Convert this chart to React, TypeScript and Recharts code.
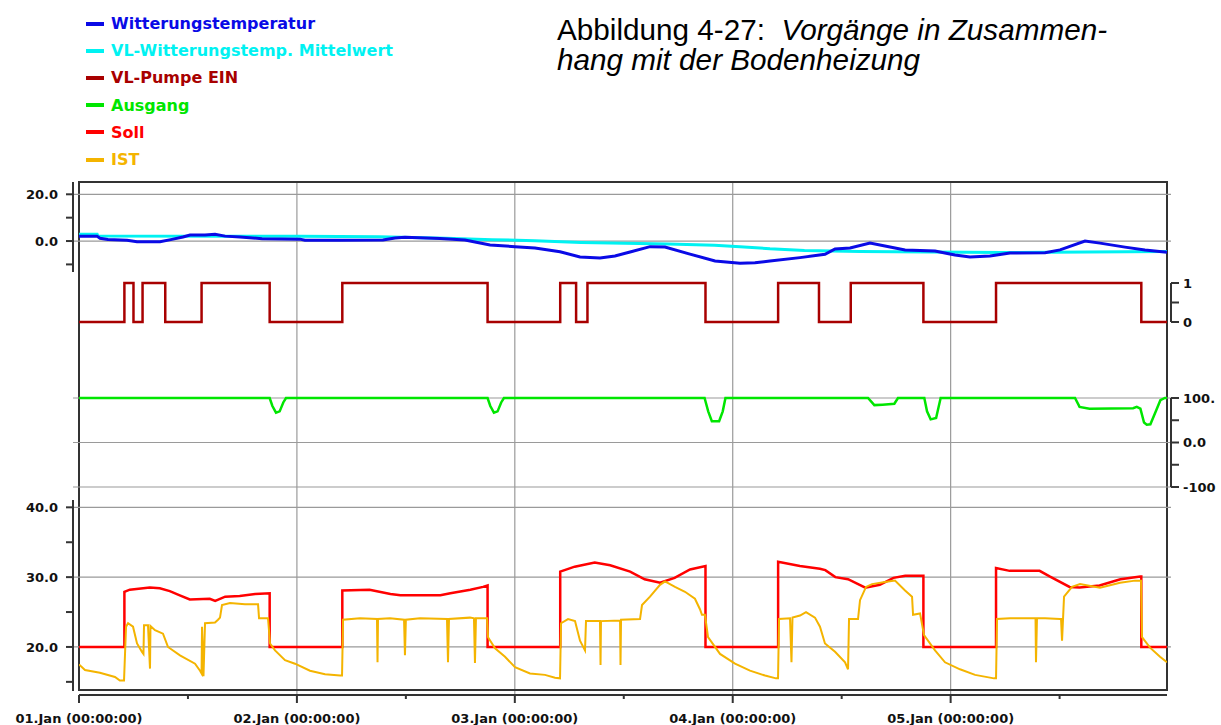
import React from 'react';
import { LineChart, Line, XAxis, YAxis, ReferenceLine, CartesianGrid, Legend } from 'recharts';

// time axis in hours since 01.Jan 00:00
const X_MAX = 119.83;
const dayTicks = [0, 12, 24, 36, 48, 60, 72, 84, 96, 108];
const dayGrid = [24, 48, 72, 96];
const dayLabels = [
  '01.Jan (00:00:00)',
  '02.Jan (00:00:00)',
  '03.Jan (00:00:00)',
  '04.Jan (00:00:00)',
  '05.Jan (00:00:00)',
];

// Witterungstemperatur [h, °C]
const outsideTemp: [number, number][] = [
  [0, 2.1], [1.98, 2.1], [2.31, 1.2], [3.19, 0.7], [5.29, 0.3], [6.39, -0.3], [8.92, -0.3],
  [10.24, 0.7], [11.45, 1.7], [12.23, 2.6], [13.88, 2.6], [14.98, 2.9], [16.08, 2.1], [17.73, 1.7],
  [20.16, 1.0], [24.34, 0.8], [24.89, 0.3], [28.75, 0.3], [33.48, 0.4], [34.8, 1.3], [35.9, 1.6],
  [39.76, 1.1], [42.51, 0.4], [45.27, -1.7], [48.02, -2.4], [50.22, -3.0], [52.98, -4.6],
  [55.18, -6.8], [57.38, -7.3], [59.03, -6.4], [60.69, -4.7], [62.89, -2.4], [64.54, -2.6],
  [67.29, -5.6], [70.05, -8.5], [72.8, -9.5], [74.45, -9.3], [76.1, -8.5], [79.41, -7.1],
  [82.16, -5.7], [83.27, -3.4], [84.92, -3.0], [87.12, -0.9], [88.77, -2.1], [90.98, -3.8],
  [94.28, -4.3], [96.48, -6.0], [98.13, -6.8], [100.33, -6.4], [102.54, -5.1], [106.4, -5.0],
  [108.05, -3.8], [110.8, 0.0], [112.45, -0.9], [115.2, -2.6], [117.4, -3.8], [119.83, -4.8],
];

// VL-Witterungstemp. Mittelwert
const outsideMean: [number, number][] = [
  [0, 2.9], [2.0, 2.9], [2.1, 2.1], [24.3, 2.0], [33, 1.8], [40.4, 1.2], [45.5, 0.6], [50.2, 0.1],
  [55.3, -0.6], [64.9, -1.3], [70.0, -1.8], [72.8, -2.4], [76.1, -3.3], [79.9, -4.0], [86.0, -4.5],
  [101.6, -4.9], [111.0, -4.7], [119.83, -4.5],
];

// VL-Pumpe EIN (0/1, step after)
const pump: [number, number][] = [
  [0, 0], [5, 1], [6, 0], [7, 1], [9.5, 0], [13.5, 1], [21, 0], [29, 1], [45, 0], [53, 1],
  [54.75, 0], [56, 1], [69, 0], [77, 1], [81.5, 0], [85, 1], [93, 0], [101, 1], [117, 0], [119.83, 0],
];

// Ausgang (%)
const output: [number, number][] = [
  [0, 100], [21.0, 100], [21.3, 82], [21.7, 67], [22.1, 70], [22.5, 90], [22.8, 100],
  [45.0, 100], [45.3, 82], [45.7, 67], [46.1, 70], [46.5, 90], [46.8, 100],
  [68.9, 100], [69.3, 70], [69.7, 48], [70.5, 48], [70.9, 70], [71.2, 100],
  [86.9, 100], [87.6, 84], [88.5, 85], [89.8, 87], [90.2, 100],
  [93.1, 100], [93.4, 70], [93.8, 52], [94.4, 55], [94.9, 100],
  [109.7, 100], [110.2, 80], [111.3, 76], [116.1, 77], [116.5, 80], [116.9, 76], [117.3, 45],
  [117.6, 40], [118.0, 41], [118.6, 70], [119.1, 95], [119.6, 100], [119.83, 100],
];

// Soll (°C)
const setpoint: [number, number][] = [
  [0, 20], [5, 20], [5, 27.9], [5.6, 28.2], [7.8, 28.5], [8.9, 28.4], [10.0, 28.0], [11.1, 27.4],
  [12.2, 26.8], [14.4, 26.9], [15.0, 26.6], [16.1, 27.2], [17.7, 27.3], [19.4, 27.6], [21, 27.7],
  [21, 20], [29, 20], [29, 28.1], [32.0, 28.2], [34.3, 27.6], [35.4, 27.4], [39.8, 27.4],
  [40.9, 27.7], [43.1, 28.2], [44.5, 28.6], [45, 28.8], [45, 20], [53, 20], [53, 30.8],
  [54.6, 31.5], [56.8, 32.1], [58.5, 31.7], [60.7, 30.8], [62.3, 29.7], [64.0, 29.2], [65.6, 29.9],
  [67.3, 31.1], [69, 31.6], [69, 20], [77, 20], [77, 32.2], [79.4, 31.6], [81.6, 31.2],
  [82.2, 31.0], [83.3, 30.0], [84.7, 29.7], [86.6, 28.5], [88.2, 28.9], [89.7, 29.9], [91.0, 30.2],
  [93, 30.2], [93, 20], [101, 20], [101, 31.3], [102.5, 30.9], [105.8, 30.9], [106.9, 30.1],
  [109.1, 28.6], [110.2, 28.5], [112.4, 28.8], [114.7, 29.7], [116.9, 30.1], [117, 30.1],
  [117, 20], [119.83, 20],
];

// IST (°C)
const actual: [number, number][] = [
  [0, 17.5], [0.66, 16.7], [2.3, 16.3], [3.96, 15.7], [4.5, 15.2], [4.96, 15.2], [5.18, 22.9],
  [5.4, 23.4], [5.95, 22.9], [6.39, 20.5], [6.94, 19.3], [7.1, 19.0], [7.16, 23.1], [7.6, 23.1],
  [7.82, 16.9], [7.87, 23.0], [8.37, 22.4], [9.25, 21.9], [9.8, 20.0], [11.12, 18.8], [12.78, 17.6],
  [13.33, 16.6], [13.5, 16.2], [13.55, 22.9], [13.71, 15.8], [13.88, 23.4], [14.98, 23.5],
  [15.31, 23.9], [15.53, 24.2], [15.75, 26.0], [16.63, 26.3], [18.28, 26.1], [19.72, 26.1],
  [19.83, 24.1], [20.82, 24.1], [21.04, 20.5], [21.59, 19.5], [22.69, 18.1], [23.79, 17.6],
  [25.44, 16.6], [27.1, 16.1], [28.75, 15.9], [28.97, 15.9], [29.08, 23.9], [30.95, 24.1],
  [32.82, 24.0], [32.88, 17.8], [32.93, 24.0], [34.25, 24.1], [35.8, 23.9], [35.9, 18.8],
  [36.0, 23.9], [37.56, 24.1], [40.53, 24.0], [40.64, 17.8], [40.75, 24.0], [43.06, 24.2],
  [43.5, 24.1], [43.61, 17.7], [43.72, 24.1], [44.94, 24.1], [45.05, 21.4], [45.82, 19.8],
  [46.92, 18.6], [48.02, 17.1], [49.67, 16.2], [51.32, 16.0], [52.43, 15.6], [52.98, 15.5],
  [53.09, 23.4], [53.86, 24.0], [54.63, 23.7], [55.18, 20.9], [55.73, 19.5], [55.84, 23.7],
  [57.38, 23.7], [57.44, 17.4], [57.49, 23.7], [59.59, 23.8], [59.64, 17.4], [59.7, 23.9],
  [61.79, 24.0], [62.01, 26.0], [62.89, 27.2], [63.99, 28.9], [64.54, 29.4], [65.64, 28.6],
  [66.74, 27.9], [67.84, 26.9], [68.39, 25.4], [68.61, 24.6], [68.94, 24.6], [69.28, 21.4],
  [70.6, 19.0], [72.25, 17.6], [73.9, 16.6], [75.56, 15.9], [76.77, 15.5], [76.99, 15.5],
  [77.1, 24.0], [78.31, 24.1], [78.47, 17.8], [78.58, 24.2], [79.41, 24.5], [80.07, 25.0],
  [81.06, 24.2], [81.61, 22.9], [82.16, 20.5], [83.27, 19.3], [84.37, 17.8], [84.7, 16.8],
  [84.81, 24.0], [85.8, 24.0], [86.02, 26.7], [86.68, 28.6], [87.34, 29.0], [88.77, 29.3],
  [89.87, 29.5], [90.98, 28.1], [91.75, 27.2], [91.86, 24.6], [92.63, 24.8], [93.07, 21.7],
  [94.28, 19.5], [95.38, 17.8], [97.03, 16.8], [98.69, 16.0], [100.78, 15.5], [101.0, 15.5],
  [101.11, 24.0], [102.54, 24.1], [104.19, 24.1], [105.35, 24.1], [105.4, 17.8], [105.51, 24.1],
  [106.4, 24.1], [108.05, 24.0], [108.16, 24.0], [108.27, 20.9], [108.49, 27.2], [109.37, 28.6],
  [110.25, 29.0], [112.45, 28.5], [114.66, 29.2], [116.31, 29.5], [116.97, 29.5], [117.08, 21.4],
  [117.96, 19.9], [119.06, 18.6], [119.83, 17.8],
];

const series = [
  { name: 'Witterungstemperatur', color: '#0a0ae6' },
  { name: 'VL-Witterungstemp. Mittelwert', color: '#00f2f2' },
  { name: 'VL-Pumpe EIN', color: '#a80000' },
  { name: 'Ausgang', color: '#00e600' },
  { name: 'Soll', color: '#ff0000' },
  { name: 'IST', color: '#f4b400' },
];

const tempLabels: Record<number, string> = { 20: '20.0', 0: '0.0' };
const pumpLabels: Record<number, string> = { 1: '1', 0: '0' };
const outLabels: Record<number, string> = { 100: '100.', 0: '0.0', [-100]: '-100' };
const roomLabels: Record<number, string> = { 40: '40.0', 30: '30.0', 20: '20.0' };

const toRows = (pts: [number, number][]) => pts.map(([h, v]) => ({ h, v }));

const W = 1221;
const H = 725;
const GRID = '#9a9a9a';
const AXIS = { stroke: '#333', strokeWidth: 2 };
const FONT = '"DejaVu Sans", Verdana, sans-serif';
const tickStyle = { fill: '#111', fontSize: 13, fontWeight: 700, fontFamily: FONT };

const layer: React.CSSProperties = { position: 'absolute', left: 0, top: 0 };

const XTick = ({ x, y, payload }: any) => {
  const major = payload.value % 24 === 0;
  return (
    <g>
      <line x1={x} x2={x} y1={y} y2={y + (major ? 8 : 4)} stroke="#333" strokeWidth={2} />
      {major && (
        <text x={x} y={y + 28} textAnchor="middle" fill="#111" fontSize={13} fontWeight={700} fontFamily={FONT}>
          {dayLabels[payload.value / 24]}
        </text>
      )}
    </g>
  );
};

const LegendList = () => (
  <div style={{ fontFamily: FONT, fontWeight: 700, fontSize: 16 }}>
    {series.map((s) => (
      <div key={s.name} style={{ height: 27.2, display: 'flex', alignItems: 'center', color: s.color }}>
        <span style={{ display: 'inline-block', width: 18, height: 4, background: s.color, marginRight: 7 }} />
        {s.name}
      </div>
    ))}
  </div>
);

const hiddenX = (
  <XAxis type="number" dataKey="h" domain={[0, X_MAX]} padding={{ left: 6, right: 4 }} hide allowDataOverflow />
);

export default function App() {
  const pumpRows = toRows(pump);
  return (
    <div style={{ position: 'absolute', left: 0, top: 0, width: W, height: H, background: '#fff', overflow: 'hidden' }}>
      {/* day grid, time axis, legend */}
      <div style={layer}>
        <LineChart width={W} height={H} data={pumpRows} margin={{ top: 182, right: W - 1167, bottom: 0, left: 79 }}>
          <CartesianGrid horizontal={false} verticalValues={dayGrid} stroke={GRID} strokeWidth={1.2} />
          <XAxis
            type="number"
            dataKey="h"
            domain={[0, X_MAX]}
            ticks={dayTicks}
            interval={0}
            height={30}
            tickSize={0}
            tickMargin={0}
            tickLine={false}
            axisLine={AXIS}
            tick={<XTick />}
          />
          <YAxis hide domain={[0, 1]} />
          <Legend
            layout="horizontal"
            verticalAlign="middle"
            align="center"
            wrapperStyle={{ top: 10, left: 86, width: 380 }}
            content={<LegendList />}
          />
        </LineChart>
      </div>

      {/* plot frame */}
      <div
        style={{
          position: 'absolute',
          left: 78,
          top: 181,
          width: 1090,
          height: 510,
          border: '2px solid #333',
          boxSizing: 'border-box',
        }}
      />

      {/* Witterungstemperatur */}
      <div style={layer}>
        <LineChart width={W} height={H} margin={{ top: 182, right: 50, bottom: H - 272, left: 0 }}>
          {hiddenX}
          <YAxis
            width={73}
            domain={[-13.25, 25.26]}
            allowDataOverflow
            ticks={[20, 10, 0, -10]}
            interval={0}
            tickFormatter={(v: number) => tempLabels[v] ?? ''}
            tick={tickStyle}
            tickSize={7}
            tickMargin={8}
            axisLine={AXIS}
            tickLine={AXIS}
          />
          <ReferenceLine y={20} stroke={GRID} strokeWidth={1.2} />
          <ReferenceLine y={0} stroke={GRID} strokeWidth={1.2} />
          <Line data={toRows(outsideMean)} dataKey="v" name={series[1].name} stroke={series[1].color} strokeWidth={3} dot={false} isAnimationActive={false} />
          <Line data={toRows(outsideTemp)} dataKey="v" name={series[0].name} stroke={series[0].color} strokeWidth={3} dot={false} isAnimationActive={false} />
        </LineChart>
      </div>

      {/* VL-Pumpe EIN */}
      <div style={layer}>
        <LineChart width={W} height={H} margin={{ top: 283, right: 0, bottom: H - 322, left: 73 }}>
          {hiddenX}
          <YAxis
            orientation="right"
            width={50}
            domain={[0, 1]}
            ticks={[0, 0.5, 1]}
            interval={0}
            tickFormatter={(v: number) => pumpLabels[v] ?? ''}
            tick={tickStyle}
            tickSize={8}
            tickMargin={4}
            axisLine={AXIS}
            tickLine={AXIS}
          />
          <Line data={pumpRows} type="stepAfter" dataKey="v" name={series[2].name} stroke={series[2].color} strokeWidth={2.5} dot={false} isAnimationActive={false} />
        </LineChart>
      </div>

      {/* Ausgang */}
      <div style={layer}>
        <LineChart width={W} height={H} margin={{ top: 398, right: 0, bottom: H - 487, left: 73 }}>
          {hiddenX}
          <YAxis
            orientation="right"
            width={50}
            domain={[-100, 100]}
            ticks={[100, 50, 0, -50, -100]}
            interval={0}
            tickFormatter={(v: number) => outLabels[v] ?? ''}
            tick={tickStyle}
            tickSize={8}
            tickMargin={4}
            axisLine={AXIS}
            tickLine={AXIS}
          />
          <ReferenceLine y={100} stroke={GRID} strokeWidth={1.2} />
          <ReferenceLine y={0} stroke={GRID} strokeWidth={1.2} />
          <ReferenceLine y={-100} stroke={GRID} strokeWidth={1.2} />
          <Line data={toRows(output)} dataKey="v" name={series[3].name} stroke={series[3].color} strokeWidth={2.5} dot={false} isAnimationActive={false} />
        </LineChart>
      </div>

      {/* Soll / IST */}
      <div style={layer}>
        <LineChart width={W} height={H} margin={{ top: 500, right: 50, bottom: H - 691, left: 0 }}>
          {hiddenX}
          <YAxis
            width={73}
            domain={[13.69, 41.05]}
            allowDataOverflow
            ticks={[40, 35, 30, 25, 20, 15]}
            interval={0}
            tickFormatter={(v: number) => roomLabels[v] ?? ''}
            tick={tickStyle}
            tickSize={7}
            tickMargin={8}
            axisLine={AXIS}
            tickLine={AXIS}
          />
          <ReferenceLine y={40} stroke={GRID} strokeWidth={1.2} />
          <ReferenceLine y={30} stroke={GRID} strokeWidth={1.2} />
          <ReferenceLine y={20} stroke={GRID} strokeWidth={1.2} />
          <Line data={toRows(setpoint)} dataKey="v" name={series[4].name} stroke={series[4].color} strokeWidth={2.5} dot={false} isAnimationActive={false} />
          <Line data={toRows(actual)} dataKey="v" name={series[5].name} stroke={series[5].color} strokeWidth={2} dot={false} isAnimationActive={false} />
        </LineChart>
      </div>

      <div
        style={{
          position: 'absolute',
          left: 557,
          top: 15,
          fontFamily: '"Liberation Sans", Arial, sans-serif',
          fontSize: 29.7,
          lineHeight: '30px',
          color: '#000',
          whiteSpace: 'pre',
        }}
      >
        {'Abbildung 4-27:  '}
        <i>Vorgänge in Zusammen-</i>
        {'\n'}
        <i>hang mit der Bodenheizung</i>
      </div>
    </div>
  );
}
